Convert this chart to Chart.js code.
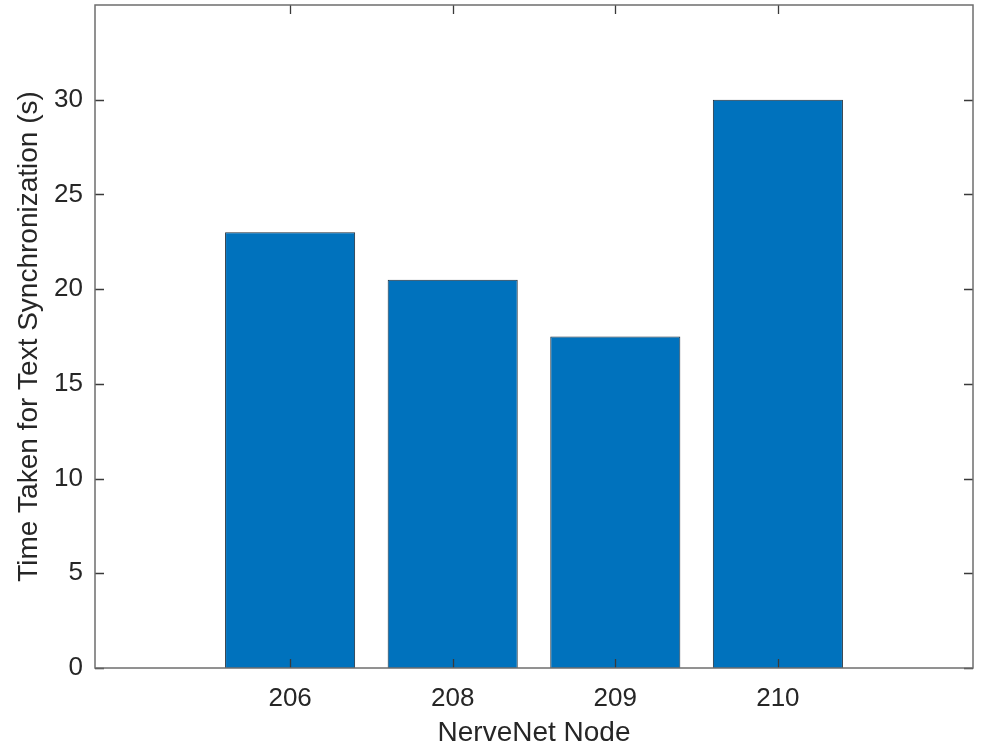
<!DOCTYPE html>
<html>
<head>
<meta charset="utf-8">
<script src="https://cdn.jsdelivr.net/npm/chart.js@4"></script>
<style>
  html, body { margin: 0; padding: 0; background: #fff; }
  #wrap { width: 987px; height: 750px; }
</style>
</head>
<body>
<div id="wrap"><canvas id="c"></canvas></div>
<script>
// data
const nodes = ['206', '208', '209', '210'];
const syncTime = [23, 20.5, 17.5, 30];
const xPositions = [1, 2, 3, 4];
const yTickValues = [0, 5, 10, 15, 20, 25, 30];

const FONT = "'Liberation Sans', Arial, sans-serif";
const TEXT = '#262626';

// MATLAB-like box with inward ticks on all four sides
const boxPlugin = {
  id: 'box',
  afterDatasetsDraw(chart) {
    const { ctx, chartArea: a, scales } = chart;
    const len = 9;
    ctx.save();
    ctx.strokeStyle = '#3a3a3a';
    ctx.lineWidth = 1.3;
    ctx.beginPath();
    scales.x.ticks.forEach(t => {
      const px = Math.round(scales.x.getPixelForValue(t.value)) + 0.5;
      ctx.moveTo(px, a.bottom); ctx.lineTo(px, a.bottom - len);
      ctx.moveTo(px, a.top); ctx.lineTo(px, a.top + len);
    });
    scales.y.ticks.forEach(t => {
      const py = Math.round(scales.y.getPixelForValue(t.value)) + 0.5;
      ctx.moveTo(a.left, py); ctx.lineTo(a.left + len, py);
      ctx.moveTo(a.right, py); ctx.lineTo(a.right - len, py);
    });
    ctx.stroke();
    ctx.strokeStyle = '#6e6e6e';
    ctx.lineWidth = 1.5;
    ctx.strokeRect(a.left, a.top, a.right - a.left, a.bottom - a.top);
    ctx.restore();
  }
};

new Chart(document.getElementById('c'), {
  type: 'bar',
  data: {
    datasets: [{
      data: xPositions.map((x, i) => ({ x: x, y: syncTime[i] })),
      backgroundColor: '#0072BD',
      borderColor: '#1e2c38',
      borderWidth: 1,
      categoryPercentage: 1,
      barPercentage: 0.8
    }]
  },
  options: {
    responsive: true,
    maintainAspectRatio: false,
    animation: false,
    layout: { padding: { top: 5, right: 14, left: 0, bottom: 0 } },
    plugins: { legend: { display: false }, tooltip: { enabled: false } },
    scales: {
      x: {
        type: 'linear',
        min: -0.2,
        max: 5.2,
        offset: false,
        grid: { display: false },
        border: { display: false },
        afterBuildTicks: s => { s.ticks = xPositions.map(v => ({ value: v })); },
        afterFit: s => { s.height = 82; s.paddingLeft = 0; s.paddingRight = 0; },
        ticks: {
          padding: 7,
          color: TEXT,
          font: { family: FONT, size: 26 },
          callback: v => nodes[xPositions.indexOf(v)]
        },
        title: {
          display: true,
          text: 'NerveNet Node',
          color: TEXT,
          font: { family: FONT, size: 28 },
          padding: 0
        }
      },
      y: {
        min: 0,
        max: 35,
        grid: { display: false },
        border: { display: false },
        afterBuildTicks: s => { s.ticks = yTickValues.map(v => ({ value: v })); },
        afterFit: s => { s.width = 95; s.paddingTop = 0; s.paddingBottom = 0; },
        ticks: {
          padding: 4,
          color: TEXT,
          font: { family: FONT, size: 26 }
        },
        title: {
          display: true,
          text: 'Time Taken for Text Synchronization (s)',
          color: TEXT,
          font: { family: FONT, size: 28 },
          padding: { top: 12, bottom: 0 }
        }
      }
    }
  },
  plugins: [boxPlugin]
});
</script>
</body>
</html>
